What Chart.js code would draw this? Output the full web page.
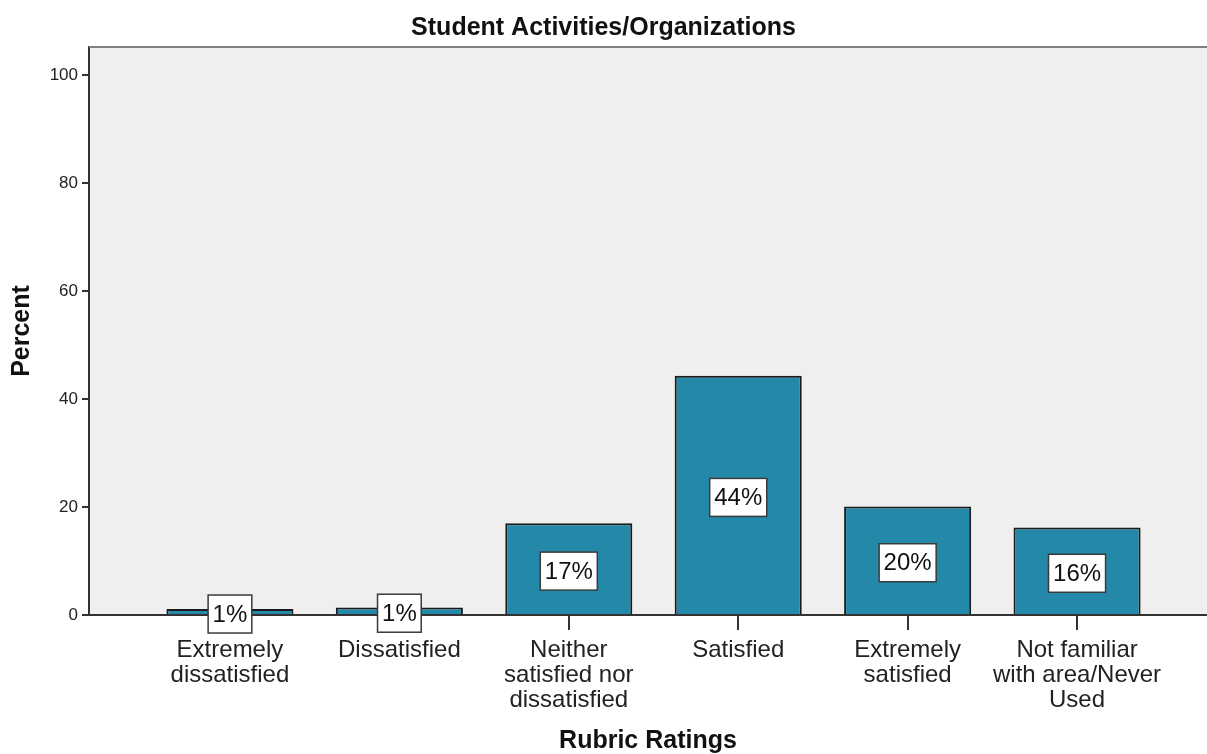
<!DOCTYPE html>
<html>
<head>
<meta charset="utf-8">
<script src="https://cdn.jsdelivr.net/npm/chart.js@4"></script>
<style>
  html, body { margin: 0; padding: 0; background: #fff; overflow: hidden; }
  #wrap { width: 1207px; height: 754px; position: relative; }
</style>
</head>
<body>
<div id="wrap"><canvas id="myChart"></canvas></div>
<script>
const categories = [
    ["Extremely", "dissatisfied"],
    ["Dissatisfied"],
    ["Neither", "satisfied nor", "dissatisfied"],
    ["Satisfied"],
    ["Extremely", "satisfied"],
    ["Not familiar", "with area/Never", "Used"]
];
const percents = [1.1, 1.4, 17.0, 44.3, 20.1, 16.2];
const yTicks = [0, 20, 40, 60, 80, 100];

const FONT = '"Liberation Sans", Arial, sans-serif';

// fondo gris del area del grafico y linea superior
const plotBg = {
    id: "plotBg",
    beforeDatasetsDraw(chart) {
        const { ctx, chartArea } = chart;
        ctx.save();
        ctx.fillStyle = "#efefef";
        ctx.fillRect(chartArea.left + 1, chartArea.top, chartArea.right - chartArea.left, chartArea.bottom - chartArea.top - 1);
        ctx.strokeStyle = "#808080";
        ctx.lineWidth = 2;
        ctx.beginPath();
        ctx.moveTo(chartArea.left, chartArea.top);
        ctx.lineTo(chartArea.right, chartArea.top);
        ctx.stroke();
        ctx.restore();
    }
};

// etiquetas con caja blanca en el centro de cada barra
const boxLabels = {
    id: "boxLabels",
    afterDatasetsDraw(chart) {
        const ctx = chart.ctx;
        const meta = chart.getDatasetMeta(0);
        ctx.save();
        ctx.font = "24px " + FONT;
        ctx.textAlign = "center";
        ctx.textBaseline = "middle";
        meta.data.forEach((bar, i) => {
            const text = Math.round(percents[i]) + "%";
            const w = ctx.measureText(text).width + 9;
            const h = 38;
            const cx = bar.x;
            const cy = (bar.y + bar.base) / 2 + 2.5;
            ctx.fillStyle = "#ffffff";
            ctx.fillRect(cx - w / 2, cy - h / 2, w, h);
            ctx.strokeStyle = "#3a3a3a";
            ctx.lineWidth = 1.5;
            ctx.strokeRect(cx - w / 2, cy - h / 2, w, h);
            ctx.fillStyle = "#111";
            ctx.fillText(text, cx, cy + 1);
        });
        ctx.restore();
    }
};

const config = {
    type: "bar",
    data: {
        datasets: [{
            data: percents.map((v, i) => ({ x: i, y: v })),
            backgroundColor: "#2489a9",
            borderColor: "#1a1a1a",
            borderWidth: 2,
            categoryPercentage: 1,
            barPercentage: 0.75
        }]
    },
    options: {
        responsive: true,
        maintainAspectRatio: false,
        animation: false,
        layout: { padding: 0 },
        plugins: {
            legend: { display: false },
            tooltip: { enabled: false },
            title: {
                display: true,
                text: "Student Activities/Organizations",
                color: "#111",
                font: { family: FONT, size: 25, weight: "bold", lineHeight: 1.2 },
                padding: { top: 13, bottom: 4 }
            }
        },
        scales: {
            x: {
                type: "linear",
                offset: false,
                min: -0.832,
                max: 5.767,
                afterBuildTicks: (s) => { s.ticks = categories.map((c, i) => ({ value: i })); },
                afterFit: (s) => { s.height = 139; },
                ticks: {
                    callback: (v) => categories[v] || "",
                    color: "#222",
                    font: { family: FONT, size: 24, lineHeight: "25px" },
                    padding: 8,
                    maxRotation: 0,
                    autoSkip: false
                },
                grid: { offset: false, drawOnChartArea: false, drawTicks: true, tickLength: 15, color: "#333", lineWidth: 2 },
                border: { display: true, color: "#333", width: 2 },
                title: {
                    display: true,
                    text: "Rubric Ratings",
                    color: "#111",
                    font: { family: FONT, size: 25, weight: "bold", lineHeight: 1.0 },
                    padding: { top: 0, bottom: 0 }
                }
            },
            y: {
                min: 0,
                max: 105.2,
                afterBuildTicks: (s) => { s.ticks = yTicks.map((v) => ({ value: v })); },
                afterFit: (s) => { s.width = 89; },
                ticks: {
                    color: "#222",
                    font: { family: FONT, size: 17 },
                    padding: 4
                },
                grid: { drawOnChartArea: false, drawTicks: true, tickLength: 7, color: "#333", lineWidth: 2 },
                border: { display: true, color: "#333", width: 2 },
                title: {
                    display: true,
                    text: "Percent",
                    color: "#111",
                    font: { family: FONT, size: 25, weight: "bold", lineHeight: 1.2 },
                    padding: { top: 7, bottom: 0 }
                }
            }
        }
    },
    plugins: [plotBg, boxLabels]
};

const myChart = new Chart(document.getElementById("myChart"), config);
</script>
</body>
</html>
